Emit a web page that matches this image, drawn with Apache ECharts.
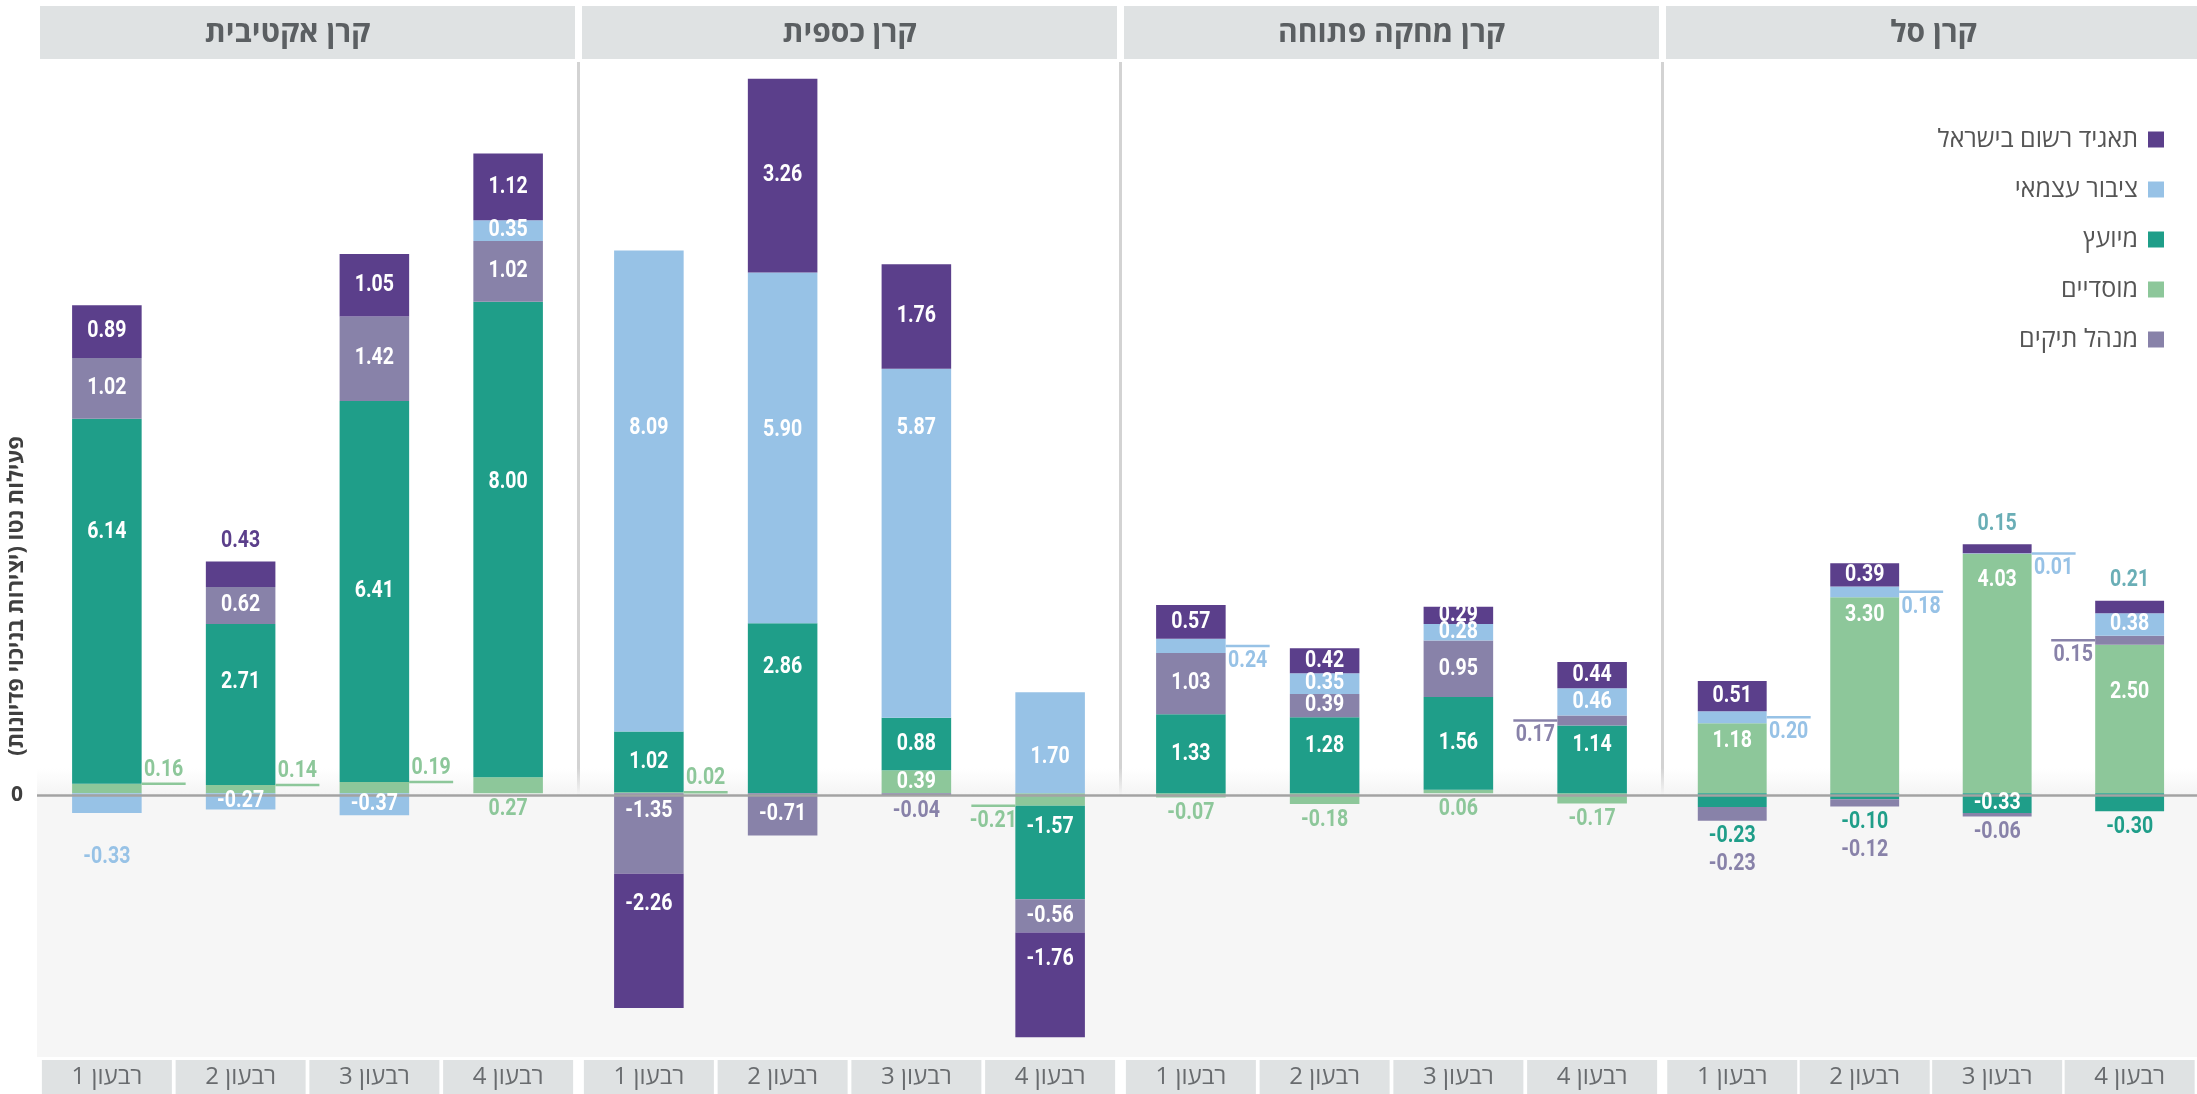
<!DOCTYPE html>
<html><head><meta charset="utf-8">
<script src="https://cdn.jsdelivr.net/npm/echarts@6/dist/echarts.min.js"></script>
<style>html,body{margin:0;padding:0;background:#fff}#c{width:2197px;height:1094px}</style>
</head><body><div id="c"></div><script>
// ---------- DATA ----------
const panels = ['קרן אקטיבית', 'קרן כספית', 'קרן מחקה פתוחה', 'קרן סל'];
const quarters = ['רבעון 1', 'רבעון 2', 'רבעון 3', 'רבעון 4'];
// stacking order, bottom to top
const seriesNames = ['מוסדיים', 'מיועץ', 'מנהל תיקים', 'ציבור עצמאי', 'תאגיד רשום בישראל'];
const legendOrder = ['תאגיד רשום בישראל', 'ציבור עצמאי', 'מיועץ', 'מוסדיים', 'מנהל תיקים'];
// values: [panel][quarter]
const institutional     = [[0.16, 0.14, 0.19, 0.27], [0.02, null, 0.39, -0.21], [-0.07, -0.18, 0.06, -0.17], [1.18, 3.30, 4.03, 2.50]];
const advised           = [[6.14, 2.71, 6.41, 8.00], [1.02, 2.86, 0.88, -1.57], [1.33, 1.28, 1.56, 1.14], [-0.23, -0.10, -0.33, -0.30]];
const portfolioManager  = [[1.02, 0.62, 1.42, 1.02], [-1.35, -0.71, -0.04, -0.56], [1.03, 0.39, 0.95, 0.17], [-0.23, -0.12, -0.06, 0.15]];
const independentPublic = [[-0.33, -0.27, -0.37, 0.35], [8.09, 5.90, 5.87, 1.70], [0.24, 0.35, 0.28, 0.46], [0.20, 0.18, 0.01, 0.38]];
const israeliCorp       = [[0.89, 0.43, 1.05, 1.12], [-2.26, 3.26, 1.76, -1.76], [0.57, 0.42, 0.29, 0.44], [0.51, 0.39, 0.15, 0.21]];
const yTitle = 'פעילות נטו (יצירות בניכוי פדיונות)';

// ---------- STYLE ----------
const valueSets = [institutional, advised, portfolioManager, independentPublic, israeliCorp];
const COLORS = ['#8dc79a', '#1f9e89', '#8882a9', '#97c2e6', '#5b3f8b'];
const numFont = "Roboto,'Liberation Sans',sans-serif";
const hebFont = "'Open Sans','Noto Sans','DejaVu Sans',sans-serif";
const LEFT0 = 40, STEP = 542, PW = 535, GRID_TOP = 62, GRID_H = 995;
const Y_MIN = -4.4, Y_MAX = 12.3;
const BAR_FRAC = 0.52, LINE_LEN = 44, NUM_SCALE = 0.85;
const rtl = s => '\u202B' + s + '\u202C';

// labels drawn outside the bars: key panel-quarter-series
const outside = {
  '0-0-0': {t: 'rightUp', a: 'end'}, '0-1-0': {t: 'rightUp', a: 'end'}, '0-2-0': {t: 'rightUp', a: 'end'},
  '0-3-0': {t: 'below', l: 0}, '0-0-3': {t: 'below', l: 1}, '0-1-4': {t: 'above'},
  '1-0-0': {t: 'rightUp', a: 'end'}, '1-2-2': {t: 'below', l: 0}, '1-3-0': {t: 'leftDown', a: 'end'},
  '2-0-0': {t: 'below', l: 0}, '2-1-0': {t: 'below', l: 0}, '2-2-0': {t: 'below', l: 0}, '2-3-0': {t: 'below', l: 0},
  '2-0-3': {t: 'rightDown'}, '2-3-2': {t: 'leftDown'},
  '3-0-3': {t: 'rightDown'}, '3-1-3': {t: 'rightDown'}, '3-2-3': {t: 'rightDown'}, '3-3-2': {t: 'leftDown'},
  '3-0-1': {t: 'below', l: 0}, '3-0-2': {t: 'below', l: 1}, '3-1-1': {t: 'below', l: 0}, '3-1-2': {t: 'below', l: 1},
  '3-2-2': {t: 'below', l: 0}, '3-3-1': {t: 'below', l: 0},
  '3-2-4': {t: 'above', c: '#6aaeb6'}, '3-3-4': {t: 'above', c: '#6aaeb6'}
};
// where inside labels sit along their segment (0 = zero side, 1 = far end); default 0.5
const labelFrac = {
  '0-0-1': 0.69, '0-1-1': 0.64, '0-3-1': 0.62,
  '1-0-3': 0.63, '1-1-3': 0.55, '1-2-3': 0.83, '1-1-1': 0.74, '1-3-3': 0.36,
  '1-0-2': 0.22, '1-0-4': 0.23, '1-3-1': 0.23, '1-3-4': 0.26,
  '2-3-1': 0.71, '2-1-1': 0.62,
  '3-0-0': 0.74, '3-1-0': 0.91, '3-2-0': 0.89, '3-3-0': 0.68
};

// stacked extents (same-sign stacking, like ECharts)
const seg = {}, ext = {};
for (let p = 0; p < 4; p++) for (let q = 0; q < 4; q++) {
  let pos = 0, neg = 0;
  for (let s = 0; s < 5; s++) {
    const v = valueSets[s][p][q];
    if (v == null) continue;
    if (v >= 0) { seg[p + '-' + q + '-' + s] = [pos, pos + v]; pos += v; }
    else { seg[p + '-' + q + '-' + s] = [neg, neg + v]; neg += v; }
  }
  ext[p + '-' + q] = [neg, pos];
}

const grids = [], xAxes = [], yAxes = [], series = [];
for (let p = 0; p < 4; p++) {
  grids.push({left: LEFT0 + p * STEP, width: PW, top: GRID_TOP, height: GRID_H});
  xAxes.push({type: 'category', gridIndex: p, data: quarters.map(rtl), position: 'bottom',
    axisLine: {show: false}, axisTick: {show: false}, splitLine: {show: false},
    axisLabel: {interval: 0, margin: 5, backgroundColor: '#dfe2e3', width: 130, height: 34, lineHeight: 34,
      align: 'center', verticalAlign: 'top', color: '#686b6e', fontSize: 24, fontFamily: hebFont}});
  yAxes.push({type: 'value', gridIndex: p, min: Y_MIN, max: Y_MAX, show: false, splitLine: {show: false}});
  for (let s = 0; s < 5; s++) {
    series.push({
      type: 'bar', name: seriesNames[s], xAxisIndex: p, yAxisIndex: p, stack: 'p' + p,
      barWidth: (BAR_FRAC * 100) + '%', data: valueSets[s][p], z: 2,
      itemStyle: {color: COLORS[s]}, emphasis: {disabled: true}, label: {show: false}
    });
  }
  // value labels (inside and outside, with leader lines)
  const labs = [];
  for (let q = 0; q < 4; q++) for (let s = 0; s < 5; s++) {
    const v = valueSets[s][p][q];
    if (v == null) continue;
    labs.push(Object.assign({q: q, s: s, v: v, key: p + '-' + q + '-' + s}, outside[p + '-' + q + '-' + s] || {t: 'in'}));
  }
  series.push({
    type: 'custom', xAxisIndex: p, yAxisIndex: p, z: 6, silent: true, clip: false,
    data: labs.map(a => [a.q, a.v]), encode: {x: 0, y: 1},
    renderItem: (params, api) => {
      const a = labs[params.dataIndex];
      const hw = api.size([1, 0])[0] * BAR_FRAC / 2;
      const cx = api.coord([a.q, 0])[0];
      const color = a.t === 'in' ? '#ffffff' : (a.c || COLORS[a.s]);
      const font = 'bold 23px ' + numFont;
      const [s0, s1] = seg[a.key];
      const txt = a.v.toFixed(2);
      const kids = [];
      const text = (x, y) => ({type: 'text', x: x, y: y, scaleX: NUM_SCALE, style: {text: txt, fill: color, font: font,
        align: 'center', verticalAlign: 'middle', textAlign: 'center', textVerticalAlign: 'middle'}});
      if (a.t === 'in') {
        const f = labelFrac[a.key] != null ? labelFrac[a.key] : 0.5;
        kids.push(text(cx, api.coord([a.q, s0 + f * (s1 - s0)])[1]));
      } else if (a.t === 'rightUp' || a.t === 'rightDown' || a.t === 'leftDown') {
        const yv = a.a === 'end' ? s1 : (s0 + s1) / 2;
        const y = api.coord([a.q, yv])[1];
        const right = a.t !== 'leftDown';
        const x1 = right ? cx + hw : cx - hw - LINE_LEN;
        const x2 = right ? cx + hw + LINE_LEN : cx - hw;
        kids.push({type: 'line', shape: {x1: x1, y1: y, x2: x2, y2: y}, style: {stroke: color, lineWidth: 2.5}});
        kids.push(text((x1 + x2) / 2, a.t === 'rightUp' ? y - 14 : y + 15));
      } else if (a.t === 'above') {
        const y = api.coord([a.q, ext[p + '-' + a.q][1]])[1];
        kids.push(text(cx, y - 20));
      } else if (a.t === 'below') {
        const y = api.coord([a.q, ext[p + '-' + a.q][0]])[1];
        kids.push(text(cx, y + 16 + 28 * a.l));
      }
      return {type: 'group', children: kids};
    }
  });
}
// background grid spanning the whole width: grey area below zero + zero line + "0" label
grids.push({left: 37, right: 0, top: GRID_TOP, height: GRID_H});
xAxes.push({type: 'value', gridIndex: 4, min: 0, max: 1, show: false});
yAxes.push({type: 'value', gridIndex: 4, min: Y_MIN, max: Y_MAX, axisLine: {show: false}, axisTick: {show: false},
  splitLine: {show: false},
  axisLabel: {margin: 14, color: '#3f3f3f', fontWeight: 'bold', fontSize: 21, fontFamily: hebFont,
    formatter: v => Math.abs(v) < 1e-9 ? '0' : ''}});
series.push({type: 'line', xAxisIndex: 4, yAxisIndex: 4, data: [], z: 0, silent: true,
  markArea: {silent: true, itemStyle: {color: '#f6f6f6'}, data: [
    [{yAxis: 0}, {yAxis: Y_MIN}],
    [{yAxis: 0.45, itemStyle: {color: {type: 'linear', x: 0, y: 0, x2: 0, y2: 1,
      colorStops: [{offset: 0, color: 'rgba(246,246,246,0)'}, {offset: 1, color: 'rgba(244,244,244,1)'}]}}}, {yAxis: 0}]
  ]}});
series.push({type: 'line', xAxisIndex: 4, yAxisIndex: 4, data: [], z: 5, silent: true,
  markLine: {silent: true, symbol: 'none', label: {show: false}, lineStyle: {color: '#a3a3a3', width: 2.5, type: 'solid'},
    data: [{yAxis: 0}]}});

const graphic = [];
for (let p = 0; p < 4; p++) {
  const x = LEFT0 + p * STEP;
  const tx = p === 0 ? (x + PW) / 2 : x + PW / 2;
  graphic.push({type: 'rect', shape: {x: x, y: 6, width: PW, height: 53}, style: {fill: '#dfe2e3'}, z: 1});
  graphic.push({type: 'text', x: tx, y: 33, z: 2, style: {text: panels[p], fill: '#5b5f62',
    font: 'bold 30px ' + hebFont, align: 'center', verticalAlign: 'middle', textAlign: 'center', textVerticalAlign: 'middle'}});
  if (p < 3) {
    const sx = x + PW + (STEP - PW) / 2;
    graphic.push({type: 'line', shape: {x1: sx, y1: 62, x2: sx, y2: 993}, style: {stroke: '#d3d3d3', lineWidth: 3}, z: 1});
  }
}
graphic.push({type: 'text', x: 17, y: 596, rotation: Math.PI / 2, z: 2, style: {text: rtl(yTitle), fill: '#3f3f3f',
  font: 'bold 22px ' + hebFont, align: 'center', verticalAlign: 'middle', textAlign: 'center', textVerticalAlign: 'middle'}});

const chart = echarts.init(document.getElementById('c'), null, {renderer: 'canvas'});
chart.setOption({
  animation: false,
  backgroundColor: '#ffffff',
  grid: grids, xAxis: xAxes, yAxis: yAxes, series: series, graphic: graphic,
  legend: {data: legendOrder, orient: 'vertical', right: 33, top: 127, padding: 0, align: 'right', icon: 'rect',
    itemWidth: 16, itemHeight: 16, itemGap: 25, selectedMode: false,
    textStyle: {fontSize: 25, color: '#555', fontFamily: hebFont, padding: [0, 5, 0, 0]}},
  tooltip: {show: false}
});
</script></body></html>
